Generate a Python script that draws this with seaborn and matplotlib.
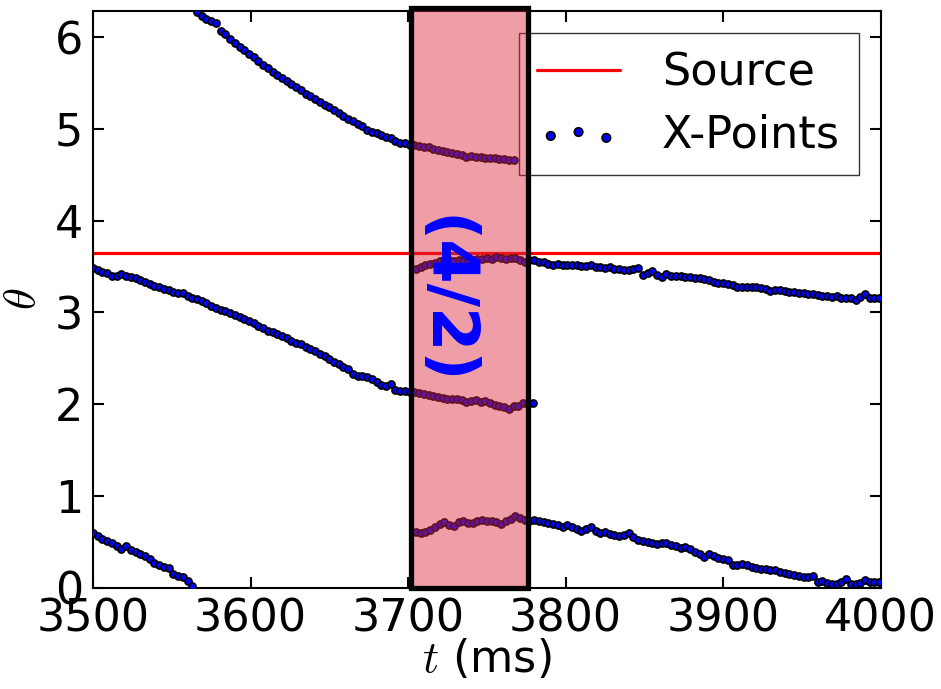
import numpy as np
import pandas as pd
import matplotlib
matplotlib.use("Agg")
import matplotlib.pyplot as plt
import matplotlib.patches as patches
import seaborn as sns

# ---------------- data ----------------
STEP = 3.0  # ms between X-point samples

# branch running from 3566 ms at the top edge down into the box
branch_a_start = 3566
branch_a = [6.27, 6.23, 6.20, 6.17, 6.15, 6.07, 6.03, 5.98, 5.94, 5.89,
            5.86, 5.82, 5.78, 5.74, 5.70, 5.66, 5.62, 5.59, 5.55, 5.52,
            5.49, 5.45, 5.42, 5.38, 5.36, 5.32, 5.29, 5.26, 5.24, 5.20,
            5.17, 5.14, 5.11, 5.08, 5.05, 5.03, 4.99, 4.97, 4.95, 4.93,
            4.91, 4.90, 4.87, 4.85, 4.84, 4.82, 4.82, 4.81, 4.80, 4.80,
            4.78, 4.77, 4.76, 4.75, 4.74, 4.73, 4.71, 4.69, 4.70, 4.69,
            4.69, 4.68, 4.68, 4.68, 4.67, 4.67, 4.66, 4.66]

# branch from 3500 ms at ~3.48 down to ~2.0 at the box's right edge
branch_b_start = 3500
branch_b = [3.48, 3.46, 3.44, 3.43, 3.40, 3.39, 3.42, 3.40, 3.38, 3.37,
            3.35, 3.33, 3.31, 3.29, 3.28, 3.25, 3.24, 3.22, 3.21, 3.21,
            3.18, 3.16, 3.14, 3.12, 3.10, 3.07, 3.05, 3.03, 3.01, 2.99,
            2.97, 2.95, 2.93, 2.90, 2.88, 2.85, 2.83, 2.80, 2.78, 2.76,
            2.74, 2.72, 2.69, 2.67, 2.65, 2.62, 2.60, 2.58, 2.55, 2.52,
            2.49, 2.46, 2.44, 2.40, 2.38, 2.33, 2.31, 2.30, 2.29, 2.27,
            2.24, 2.21, 2.20, 2.22, 2.15, 2.14, 2.14, 2.13, 2.13, 2.12,
            2.11, 2.10, 2.09, 2.08, 2.07, 2.05, 2.05, 2.06, 2.04, 2.02,
            2.03, 2.04, 2.02, 2.03, 2.01, 1.99, 1.98, 1.97, 1.95, 1.98,
            1.98, 2.01, 2.00, 2.01]

# branch starting in the box at ~3.48 and running to 4000 ms
branch_c_start = 3705
branch_c = [3.47, 3.49, 3.51, 3.53, 3.54, 3.56, 3.57, 3.57, 3.56, 3.57,
            3.56, 3.56, 3.57, 3.58, 3.58, 3.59, 3.58, 3.60, 3.59, 3.58,
            3.59, 3.59, 3.57, 3.55, 3.57, 3.57, 3.55, 3.55, 3.53, 3.52,
            3.53, 3.52, 3.51, 3.52, 3.51, 3.50, 3.50, 3.51, 3.49, 3.49,
            3.48, 3.49, 3.47, 3.47, 3.46, 3.46, 3.47, 3.48, 3.41, 3.43,
            3.45, 3.41, 3.38, 3.42, 3.40, 3.39, 3.40, 3.38, 3.38, 3.37,
            3.37, 3.36, 3.35, 3.33, 3.32, 3.32, 3.31, 3.30, 3.28, 3.27,
            3.27, 3.27, 3.27, 3.26, 3.25, 3.23, 3.24, 3.24, 3.23, 3.22,
            3.22, 3.21, 3.21, 3.20, 3.20, 3.19, 3.18, 3.18, 3.17, 3.18,
            3.16, 3.16, 3.15, 3.13, 3.17, 3.20, 3.16, 3.16, 3.15]

# short branch at the bottom-left
branch_d_start = 3500
branch_d = [0.59, 0.56, 0.53, 0.51, 0.48, 0.45, 0.42, 0.45, 0.41, 0.39,
            0.37, 0.34, 0.31, 0.27, 0.25, 0.22, 0.21, 0.15, 0.13, 0.11,
            0.07, 0.02]

# branch starting in the box at ~0.6 and running to 4000 ms
branch_e_start = 3705
branch_e = [0.60, 0.59, 0.60, 0.63, 0.66, 0.69, 0.71, 0.68, 0.67, 0.71,
            0.72, 0.70, 0.70, 0.72, 0.74, 0.73, 0.73, 0.71, 0.69, 0.72,
            0.75, 0.78, 0.76, 0.74, 0.73, 0.74, 0.72, 0.71, 0.70, 0.69,
            0.68, 0.66, 0.68, 0.66, 0.64, 0.62, 0.64, 0.66, 0.62, 0.59,
            0.60, 0.58, 0.57, 0.56, 0.57, 0.59, 0.55, 0.52, 0.51, 0.50,
            0.48, 0.47, 0.48, 0.48, 0.46, 0.45, 0.43, 0.44, 0.42, 0.39,
            0.36, 0.33, 0.36, 0.34, 0.32, 0.31, 0.30, 0.24, 0.25, 0.26,
            0.24, 0.22, 0.21, 0.20, 0.20, 0.19, 0.19, 0.17, 0.16, 0.15,
            0.14, 0.13, 0.12, 0.11, 0.13, 0.06, 0.07, 0.05, 0.04, 0.04,
            0.06, 0.09, 0.04, 0.04, 0.05, 0.08, 0.06, 0.06, 0.06]

source_theta = 3.65
window_start, window_end = 3702, 3776
window_label = "(4/2)"
xticks = [3500, 3600, 3700, 3800, 3900, 4000]
yticks = [0, 1, 2, 3, 4, 5, 6]

# ---------------- assemble ----------------
frames = []
for start, vals in [(branch_a_start, branch_a), (branch_b_start, branch_b),
                    (branch_c_start, branch_c), (branch_d_start, branch_d),
                    (branch_e_start, branch_e)]:
    t = start + STEP * np.arange(len(vals))
    frames.append(pd.DataFrame({"t": t, "theta": vals}))
df = pd.concat(frames, ignore_index=True)

sns.set_style("ticks")
plt.rcParams["font.family"] = ["DejaVu Sans"]
plt.rcParams["mathtext.fontset"] = "cm"
for key in ["text.color", "axes.labelcolor", "xtick.color", "ytick.color",
            "axes.edgecolor"]:
    plt.rcParams[key] = "black"

fig = plt.figure(figsize=(9.41, 6.89), dpi=100)
ax = fig.add_axes([0.0988, 0.1473, 0.8372, 0.8367])

ax.axhline(source_theta, color="red", lw=2.3, zorder=2, label="Source")
sns.scatterplot(data=df, x="t", y="theta", ax=ax, color="blue",
                edgecolor="black", linewidth=1.2, s=26, zorder=3,
                label="X-Points")

ax.set_xlim(3500, 4000)
ax.set_ylim(0, 2 * np.pi)
ax.set_xticks(xticks)
ax.set_yticks(yticks)
ax.tick_params(direction="in", length=8, width=1.5, top=True, right=True,
               labelsize=32, pad=7, colors="black")
for sp in ax.spines.values():
    sp.set_linewidth(1.5)
    sp.set_color("black")

ax.set_xlabel("$t$ (ms)", fontsize=32, labelpad=-2, color="black")
ax.set_ylabel(r"$\theta$", fontsize=32, labelpad=8, color="black")

handles, labels = ax.get_legend_handles_labels()
order = [labels.index("Source"), labels.index("X-Points")]
leg = ax.legend([handles[i] for i in order], [labels[i] for i in order],
                loc="upper right", fontsize=32, frameon=True, fancybox=False,
                scatterpoints=3, scatteryoffsets=[0.375, 0.5, 0.3125],
                markerscale=1.2, handlelength=1.85, handletextpad=0.95,
                labelspacing=0.42, borderpad=0.42, borderaxespad=0.5)
leg.get_frame().set_edgecolor("black")
leg.get_frame().set_linewidth(1.0)
for txt in leg.get_texts():
    txt.set_color("black")
leg.set_zorder(5)

rect = patches.Rectangle((window_start, 0), window_end - window_start, 6.32,
                         facecolor=(0.863, 0.157, 0.235, 0.45),
                         edgecolor="black", lw=3.8, zorder=6, clip_on=False)
ax.add_patch(rect)
ax.text((window_start + window_end) / 2 - 16, 3.13, window_label,
        rotation=-90, ha="center", va="center", color="blue",
        fontsize=46, fontweight="bold", zorder=7)

fig.savefig("out.png", dpi=100)
